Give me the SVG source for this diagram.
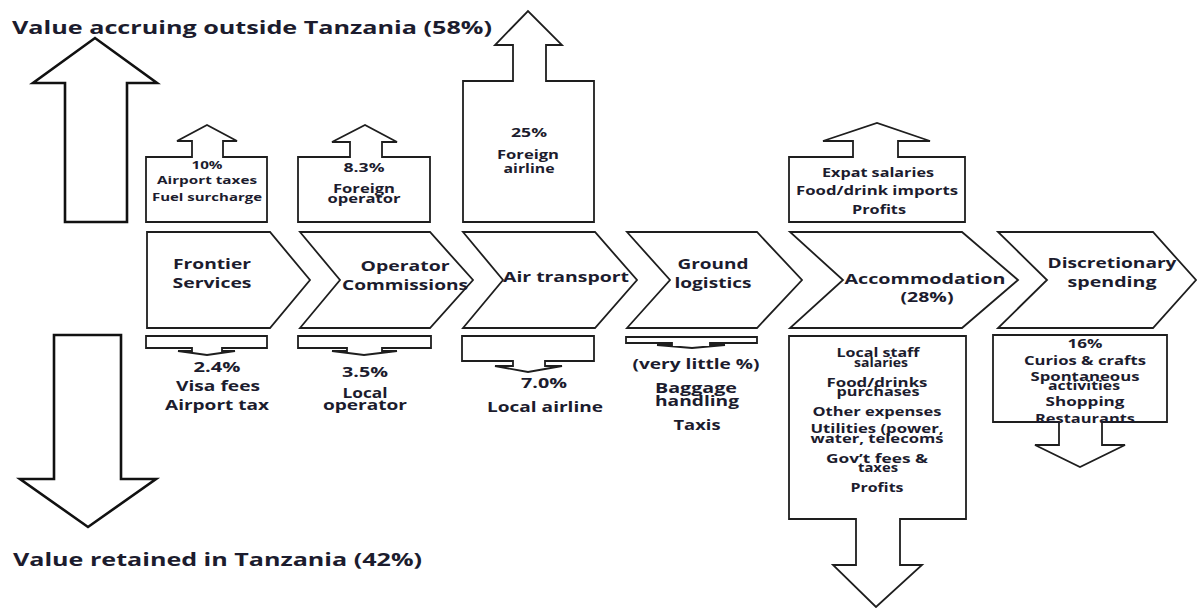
<svg xmlns="http://www.w3.org/2000/svg" width="1197" height="608" viewBox="0 0 1197 608">
  <style>
    .shape { fill: #ffffff; stroke: #1e1e1e; stroke-width: 1.8; stroke-linejoin: miter; }
    .big { fill: #ffffff; stroke: #111111; stroke-width: 2.6; }
    .t { font-family: "Open Sans", "Liberation Sans", sans-serif; font-weight: bold; fill: #1c1c2e; text-anchor: middle; }
    .title { font-family: "Open Sans", "Liberation Sans", sans-serif; font-weight: bold; fill: #1c1c2e; font-size: 18px; }
    .s11 { font-size: 11px; }
    .s12 { font-size: 12px; }
    .s13 { font-size: 13px; }
    .s14 { font-size: 14px; }
  </style>
  <rect width="1197" height="608" fill="#ffffff"/>

  <!-- outside / retained headline arrows -->
  <g id="outside">
    <path class="big" d="M65,222 V83 H33 L95,38 L157,83 H127 V222 Z"/>
    <text class="title" x="12" y="34" textLength="480" lengthAdjust="spacingAndGlyphs">Value accruing outside Tanzania (58%)</text>
  </g>
  <g id="retained">
    <path class="big" d="M54,335 H121 V479 H156 L88,527 L20,479 H54 Z"/>
    <text class="title" x="13" y="566" textLength="409" lengthAdjust="spacingAndGlyphs">Value retained in Tanzania (42%)</text>
  </g>

  <!-- value chain stages -->
  <g id="stages">
    <g id="frontier">
      <path class="shape" d="M147,232 H270 L310,280 L270,328 H147 Z"/>
    </g>
    <g id="operator">
      <path class="shape" d="M300,232 H430 L473,280 L430,328 H300 L340,280 Z"/>
    </g>
    <g id="air">
      <path class="shape" d="M463,232 H595 L637,280 L595,328 H463 L503,280 Z"/>
    </g>
    <g id="ground">
      <path class="shape" d="M627,232 H757 L802,280 L757,328 H627 L670,280 Z"/>
    </g>
    <g id="accommodation">
      <path class="shape" d="M790,232 H962 L1018,280 L962,328 H790 L843,280 Z"/>
    </g>
    <g id="discretionary">
      <path class="shape" d="M998,232 H1153 L1196,280 L1153,328 H998 L1047,280 Z"/>
    </g>
  </g>

  <!-- leakage (up) and retention (down) flows -->
  <g id="connectors">
    <path class="shape" d="M146,222 V157 H192 V141 H177 L207,125 L237,141 H223 V157 H267 V222 Z"/>
    <path class="shape" d="M298,222 V157 H350 V142 H332 L365,125 L397,142 H382 V157 H430 V222 Z"/>
    <path class="shape" d="M463,222 V81 H513 V45 H495 L528,11 L562,45 H546 V81 H594 V222 Z"/>
    <path class="shape" d="M789,222 V157 H853 V141 H823 L877,123 L930,141 H898 V157 H965 V222 Z"/>

    <path class="shape" d="M146,336 H267 V348 H222 V351 H235 L207,355 L178,351 H192 V348 H146 Z"/>
    <path class="shape" d="M298,336 H431 V348 H382 V351 H397 L364,355 L332,351 H347 V348 H298 Z"/>
    <path class="shape" d="M462,336 H594 V361 H545 V366 H562 L528,372 L495,366 H513 V361 H462 Z"/>
    <path class="shape" d="M626,337 H757 V343 H710 V345 H725 L692,348 L657,345 H672 V343 H626 Z"/>
    <path class="shape" d="M789,336 H966 V519 H900 V565 H922 L876,607 L833,565 H856 V519 H789 Z"/>
    <path class="shape" d="M993,335 H1167 V422 H1102 V445 H1125 L1080,467 L1035,445 H1059 V422 H993 Z"/>
  </g>

  <!-- stage labels -->
  <g id="stage-labels">
    <text class="t s14" x="212" y="269" textLength="78" lengthAdjust="spacingAndGlyphs">Frontier</text>
    <text class="t s14" x="212" y="288" textLength="79" lengthAdjust="spacingAndGlyphs">Services</text>
    <text class="t s14" x="405" y="271" textLength="89" lengthAdjust="spacingAndGlyphs">Operator</text>
    <text class="t s14" x="405" y="290" textLength="126" lengthAdjust="spacingAndGlyphs">Commissions</text>
    <text class="t s14" x="566" y="282" textLength="126" lengthAdjust="spacingAndGlyphs">Air transport</text>
    <text class="t s14" x="713" y="269" textLength="71" lengthAdjust="spacingAndGlyphs">Ground</text>
    <text class="t s14" x="713" y="288" textLength="77" lengthAdjust="spacingAndGlyphs">logistics</text>
    <text class="t s14" x="925" y="284" textLength="161" lengthAdjust="spacingAndGlyphs">Accommodation</text>
    <text class="t s14" x="927" y="302" textLength="53" lengthAdjust="spacingAndGlyphs">(28%)</text>
    <text class="t s14" x="1112" y="268" textLength="129" lengthAdjust="spacingAndGlyphs">Discretionary</text>
    <text class="t s14" x="1112" y="287" textLength="89" lengthAdjust="spacingAndGlyphs">spending</text>
  </g>

  <!-- value leaving the country -->
  <g id="outside-labels">
    <text class="t s11" x="207" y="169" textLength="31" lengthAdjust="spacingAndGlyphs">10%</text>
    <text class="t s11" x="207" y="184" textLength="100" lengthAdjust="spacingAndGlyphs">Airport taxes</text>
    <text class="t s11" x="207" y="201" textLength="110" lengthAdjust="spacingAndGlyphs">Fuel surcharge</text>

    <text class="t s12" x="364" y="172" textLength="41" lengthAdjust="spacingAndGlyphs">8.3%</text>
    <text class="t s12" x="364" y="193" textLength="62" lengthAdjust="spacingAndGlyphs">Foreign</text>
    <text class="t s12" x="364" y="203" textLength="73" lengthAdjust="spacingAndGlyphs">operator</text>

    <text class="t s12" x="529" y="137" textLength="36" lengthAdjust="spacingAndGlyphs">25%</text>
    <text class="t s12" x="528" y="159" textLength="62" lengthAdjust="spacingAndGlyphs">Foreign</text>
    <text class="t s12" x="529" y="173" textLength="51" lengthAdjust="spacingAndGlyphs">airline</text>

    <text class="t s12" x="878" y="177" textLength="112" lengthAdjust="spacingAndGlyphs">Expat salaries</text>
    <text class="t s12" x="877" y="195" textLength="162" lengthAdjust="spacingAndGlyphs">Food/drink imports</text>
    <text class="t s12" x="879" y="214" textLength="54" lengthAdjust="spacingAndGlyphs">Profits</text>
  </g>

  <!-- value kept in the country -->
  <g id="retained-labels">
    <text class="t s14" x="217" y="372" textLength="47" lengthAdjust="spacingAndGlyphs">2.4%</text>
    <text class="t s14" x="218" y="391" textLength="84" lengthAdjust="spacingAndGlyphs">Visa fees</text>
    <text class="t s14" x="217" y="410" textLength="104" lengthAdjust="spacingAndGlyphs">Airport tax</text>

    <text class="t s14" x="365" y="377" textLength="46" lengthAdjust="spacingAndGlyphs">3.5%</text>
    <text class="t s14" x="365" y="398" textLength="45" lengthAdjust="spacingAndGlyphs">Local</text>
    <text class="t s14" x="365" y="410" textLength="84" lengthAdjust="spacingAndGlyphs">operator</text>

    <text class="t s14" x="544" y="388" textLength="46" lengthAdjust="spacingAndGlyphs">7.0%</text>
    <text class="t s14" x="545" y="412" textLength="116" lengthAdjust="spacingAndGlyphs">Local airline</text>

    <text class="t s14" x="696" y="369" textLength="127" lengthAdjust="spacingAndGlyphs">(very little %)</text>
    <text class="t s14" x="696" y="393" textLength="82" lengthAdjust="spacingAndGlyphs">Baggage</text>
    <text class="t s14" x="697" y="406" textLength="84" lengthAdjust="spacingAndGlyphs">handling</text>
    <text class="t s14" x="697" y="430" textLength="47" lengthAdjust="spacingAndGlyphs">Taxis</text>

    <text class="t s13" x="878" y="357" textLength="83" lengthAdjust="spacingAndGlyphs">Local staff</text>
    <text class="t s13" x="881" y="367" textLength="54" lengthAdjust="spacingAndGlyphs">salaries</text>
    <text class="t s13" x="877" y="387" textLength="101" lengthAdjust="spacingAndGlyphs">Food/drinks</text>
    <text class="t s13" x="878" y="396" textLength="83" lengthAdjust="spacingAndGlyphs">purchases</text>
    <text class="t s13" x="877" y="416" textLength="129" lengthAdjust="spacingAndGlyphs">Other expenses</text>
    <text class="t s13" x="877" y="433" textLength="133" lengthAdjust="spacingAndGlyphs">Utilities (power,</text>
    <text class="t s13" x="877" y="443" textLength="133" lengthAdjust="spacingAndGlyphs">water, telecoms</text>
    <text class="t s13" x="877" y="463" textLength="102" lengthAdjust="spacingAndGlyphs">Gov’t fees &amp;</text>
    <text class="t s13" x="878" y="472" textLength="40" lengthAdjust="spacingAndGlyphs">taxes</text>
    <text class="t s13" x="877" y="492" textLength="53" lengthAdjust="spacingAndGlyphs">Profits</text>

    <text class="t s13" x="1085" y="348" textLength="35" lengthAdjust="spacingAndGlyphs">16%</text>
    <text class="t s13" x="1085" y="365" textLength="122" lengthAdjust="spacingAndGlyphs">Curios &amp; crafts</text>
    <text class="t s13" x="1085" y="381" textLength="109" lengthAdjust="spacingAndGlyphs">Spontaneous</text>
    <text class="t s13" x="1084" y="390" textLength="72" lengthAdjust="spacingAndGlyphs">activities</text>
    <text class="t s13" x="1085" y="406" textLength="79" lengthAdjust="spacingAndGlyphs">Shopping</text>
    <text class="t s13" x="1085" y="423" textLength="100" lengthAdjust="spacingAndGlyphs">Restaurants</text>
  </g>
</svg>
